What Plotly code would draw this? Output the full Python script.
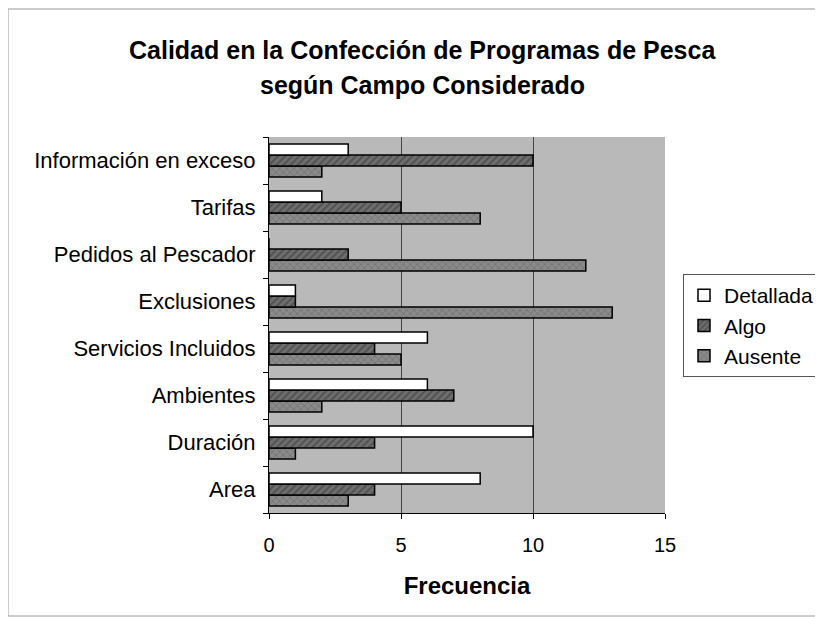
import plotly.graph_objects as go

categories = ["Area", "Duración", "Ambientes", "Servicios Incluidos", "Exclusiones",
              "Pedidos al Pescador", "Tarifas", "Información en exceso"]
detallada = [8, 10, 6, 6, 1, 0, 2, 3]
algo = [4, 4, 7, 4, 1, 3, 5, 10]
ausente = [3, 1, 2, 5, 13, 12, 8, 2]
x_ticks = [0, 5, 10, 15]
title_lines = ["Calidad en la Confección de Programas de Pesca", "según Campo Considerado"]

font = "Liberation Sans, Arial, sans-serif"

W, H = 815, 609
L, R, T, B = 261, 158, 129, 104
PW, PH = W - L - R, H - T - B

fig = go.Figure()
fig.add_trace(go.Bar(
    name="Ausente", y=categories, x=ausente, orientation="h",
    marker=dict(color="#7a7a7a", line=dict(color="black", width=1.5),
                pattern=dict(shape="x", fgcolor="#5a5a5a", bgcolor="#8a8a8a", size=5, solidity=0.3)),
))
fig.add_trace(go.Bar(
    name="Algo", y=categories, x=algo, orientation="h",
    marker=dict(color="#555555", line=dict(color="black", width=1.5),
                pattern=dict(shape="/", fgcolor="#333333", bgcolor="#6e6e6e", size=5, solidity=0.4)),
))
fig.add_trace(go.Bar(
    name="Detallada", y=categories, x=detallada, orientation="h",
    marker=dict(color="white", line=dict(color="black", width=1.5)),
))

fig.update_layout(
    width=W, height=H,
    margin=dict(l=L, r=R, t=T, b=B, autoexpand=False),
    paper_bgcolor="white",
    plot_bgcolor="#b9b9b9",
    barmode="group",
    bargap=0.3,
    bargroupgap=0,
    font=dict(family=font, size=22, color="black"),
    legend=dict(
        traceorder="reversed",
        x=(675 - L) / PW, xanchor="left", y=(H - B - 317.5) / PH, yanchor="middle",
        bordercolor="#555555", borderwidth=1,
        font=dict(size=21, family=font),
        bgcolor="white",
        itemwidth=30,
        tracegroupgap=0,
    ),
    showlegend=True,
)
title_centers = [42, 77]
for txt, yc in zip(title_lines, title_centers):
    fig.add_annotation(
        text="<b>" + txt + "</b>", xref="paper", yref="paper",
        x=(414 - L) / PW, y=(H - B - yc) / PH, xanchor="center", yanchor="middle",
        showarrow=False, font=dict(size=25, family=font, color="black"),
    )
fig.update_xaxes(
    range=[0, 15], tickvals=x_ticks, showgrid=True, gridcolor="#444444", gridwidth=1,
    zeroline=False, showline=True, linecolor="black",
    ticks="outside", ticklen=5, tickcolor="black",
    ticklabelstandoff=9,
    title=dict(text="<b>Frecuencia</b>", font=dict(size=24, family=font), standoff=22),
    tickfont=dict(size=20),
)
fig.update_yaxes(
    categoryorder="array", categoryarray=categories,
    showline=True, linecolor="black", ticks="outside", ticklen=5, tickcolor="black",
    tickson="boundaries", ticklabelstandoff=8,
    showgrid=False, tickfont=dict(size=22),
)
fig.add_shape(type="rect", xref="paper", yref="paper",
              x0=-L / PW, x1=(W - L - 1) / PW,
              y0=-(B - 1) / PH, y1=(H - B - 1) / PH,
              line=dict(color="#999999", width=1), layer="below")
fig.write_html("out.html")
